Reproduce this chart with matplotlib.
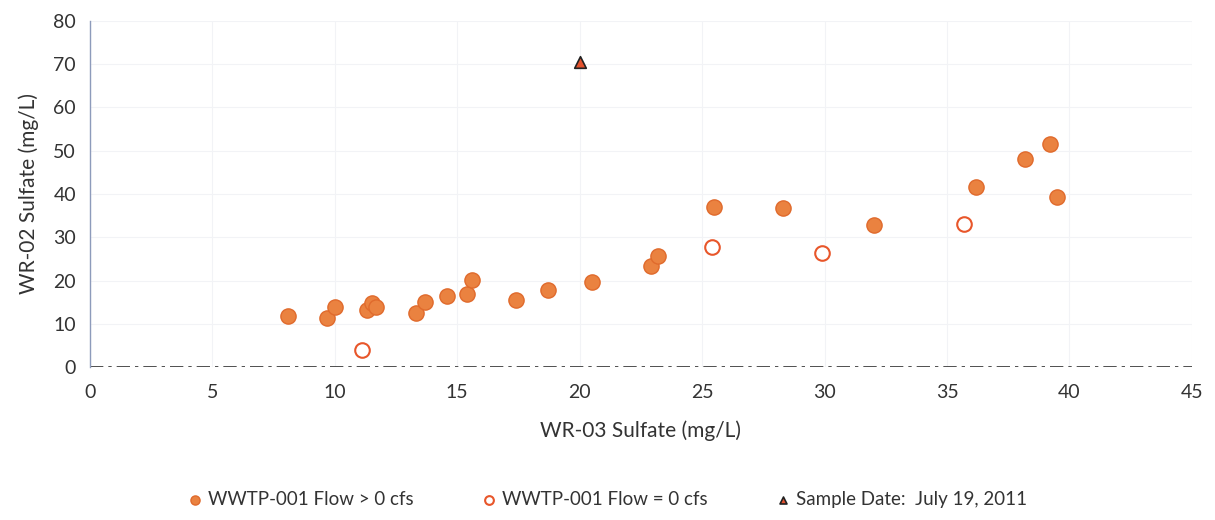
import matplotlib.pyplot as plt

plt.rcParams['font.family'] = ['Lato', 'DejaVu Sans']

# WR-03 sulfate (x) vs WR-02 sulfate (y), mg/L
flow_x = [8.1, 9.7, 10.0, 11.3, 11.5, 11.7, 13.3, 13.7, 14.6, 15.4, 15.6,
          17.4, 18.7, 20.5, 22.9, 23.2, 25.5, 28.3, 32.0, 36.2, 38.2, 39.2, 39.5]
flow_y = [11.8, 11.3, 13.9, 13.3, 14.7, 14.0, 12.5, 15.0, 16.4, 16.9, 20.1,
          15.5, 17.8, 19.6, 23.3, 25.6, 37.0, 36.8, 32.8, 41.6, 48.1, 51.6, 39.3]
noflow_x = [11.1, 25.4, 29.9, 35.7]
noflow_y = [3.9, 27.8, 26.3, 33.1]
sample_x = [20.0]
sample_y = [70.5]

fig = plt.figure(figsize=(12.15, 5.2), dpi=100)
ax = fig.add_axes([0.074, 0.294, 0.907, 0.666])

ax.scatter(flow_x, flow_y, s=120, color='#ea8240', edgecolors='#e06a2c',
           linewidths=1, label='WWTP-001 Flow > 0 cfs', zorder=3)
ax.scatter(noflow_x, noflow_y, s=110, facecolors='white', edgecolors='#e8562a',
           linewidths=1.5, label='WWTP-001 Flow = 0 cfs', zorder=3)
ax.scatter(sample_x, sample_y, s=70, marker='^', color='#e4522e',
           edgecolors='#222222', linewidths=1.2, label='Sample Date:  July 19, 2011', zorder=4)

ax.set_xlim(0, 45)
ax.set_ylim(0, 80)
ax.set_xticks(range(0, 46, 5))
ax.set_yticks(range(0, 81, 10))
ax.grid(True, color='#f2f3f6', linewidth=0.8)
ax.set_axisbelow(True)

for s in ['top', 'right', 'bottom']:
    ax.spines[s].set_visible(False)
ax.spines['left'].set_color('#8d9bbb')
ax.spines['left'].set_linewidth(1.0)
ax.axhline(0, color='#333333', linewidth=1.2, linestyle=(0, (8, 3, 2, 3)), zorder=2)

ax.tick_params(length=0, labelsize=14, colors='#333333', pad=12)
ax.tick_params(axis='y', pad=10)
ax.set_xlabel('WR-03 Sulfate (mg/L)', fontsize=15, color='#333333', labelpad=14)
ax.set_ylabel('WR-02 Sulfate (mg/L)', fontsize=15, color='#333333', labelpad=10)

fig.legend(loc='lower center', bbox_to_anchor=(0.5, -0.01), ncol=3, frameon=False,
           fontsize=13.5, markerscale=0.6, handlelength=0.8, handletextpad=0.3,
           columnspacing=3.6, labelcolor='#333333')

fig.savefig('out.png', dpi=100)
